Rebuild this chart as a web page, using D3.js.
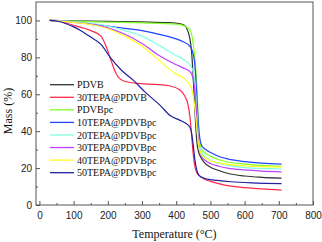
<!DOCTYPE html>
<html><head><meta charset="utf-8">
<script src="https://cdn.jsdelivr.net/npm/d3@7"></script>
<style>html,body{margin:0;padding:0;background:#fff}svg{display:block}</style>
</head><body><svg id="c" width="322" height="242"></svg>
<script>
// Series data: [temperature °C, mass %]
const pdvb = [[30,100],[100,99.8],[200,99.5],[300,99.2],[380,98.8],[420,97.8],[430,96],[440,90],[445,83],[450,68],[455,50],[460,35],[465,29],[470,26.5],[480,23.5],[500,20.5],[525,18.7],[550,17.2],[600,15.7],[650,15],[708,14.6]];
const tepa30pdvb = [[30,100],[60,99.5],[100,97.3],[150,94.5],[180,91.5],[195,86],[210,78],[225,71],[245,67.3],[280,66],[350,65.2],[380,64.6],[410,62.5],[425,59],[435,54],[440,48],[445,38],[450,27],[455,20.5],[462,17],[470,15.5],[485,13.8],[500,12.8],[530,11.3],[560,10.2],[600,9.4],[650,8.7],[708,8.1]];
const pdvbpc = [[30,100],[100,99.6],[200,99.1],[300,98.7],[400,98],[420,97.3],[430,96.5],[440,95],[445,92.5],[450,87],[455,79],[460,66],[465,45],[470,33],[475,30],[480,29],[490,27.5],[500,26.5],[525,24.5],[550,23.3],[600,22.2],[650,21.5],[708,21]];
const tepa10 = [[30,100],[100,99.3],[150,98.2],[200,97],[250,95.7],[300,94.5],[350,92.5],[400,90],[420,88.5],[440,86],[445,84.5],[450,81.5],[455,75],[460,60],[465,43],[470,35],[475,32],[480,31],[490,29.5],[500,28.5],[525,26.3],[550,25],[600,23.5],[650,22.7],[708,22.2]];
const tepa20 = [[30,100],[100,99.3],[150,98.5],[200,97],[250,94.5],[300,91.5],[350,86.5],[400,81],[420,79],[440,76],[445,74.5],[450,72],[455,65],[460,52],[465,36],[470,30.5],[475,28.5],[480,27],[490,25.5],[500,24.3],[525,22.5],[550,21.5],[600,20.3],[650,19.8],[708,19.5]];
const tepa30 = [[30,100],[100,99],[150,98],[200,96],[250,92.5],[300,87.5],[350,81],[400,76],[420,74.3],[440,72.3],[445,71],[450,68],[455,61],[460,48],[465,34],[470,28.5],[475,26.3],[480,25],[490,23.5],[500,22.5],[525,21],[550,20],[600,19],[650,18.4],[708,18]];
const tepa40 = [[30,100],[100,99],[150,97.8],[200,95.5],[250,91.5],[300,86],[350,78.5],[380,73.5],[400,71],[420,69],[440,65],[445,63],[450,59],[455,52],[460,42],[465,33],[470,29],[475,27],[480,26],[490,25],[500,24],[525,22.8],[550,22],[600,21.2],[650,20.8],[708,20.5]];
const tepa50 = [[30,100],[60,99.3],[100,96.5],[120,94.6],[150,91],[180,87],[207,80],[240,73],[275,67.5],[310,61],[353,54],[382,48.5],[410,46],[430,44],[440,42.3],[445,39],[450,32],[455,24],[460,19],[465,16.5],[475,15],[490,14],[520,13.3],[560,12.6],[620,12],[708,11.6]];

const seriesNames = ["PDVB","30TEPA@PDVB","PDVBpc","10TEPA@PDVBpc","20TEPA@PDVBpc","30TEPA@PDVBpc","40TEPA@PDVBpc","50TEPA@PDVBpc"];
const seriesData = [pdvb, tepa30pdvb, pdvbpc, tepa10, tepa20, tepa30, tepa40, tepa50];
const seriesColors = ["#333333","#ff2a4a","#80ff20","#2244ff","#80ffe0","#c040ff","#ffff20","#2020a0"];
const xTicks = [0,100,200,300,400,500,600,700,800];
const yTicks = [0,20,40,60,80,100];

const svg = d3.select("#c");
const L = 36, R = 313, T = 2, B = 205;
const x = d3.scaleLinear().domain([-10, 800]).range([L, R]);
const y = d3.scaleLinear().domain([0, 110]).range([B, T]);
const axisColor = "#555";

// frame
svg.append("rect").attr("x", L).attr("y", T).attr("width", R - L).attr("height", B - T)
  .attr("fill", "none").attr("stroke", axisColor).attr("stroke-width", 1);

// x axis ticks (inward)
const gx = svg.append("g").attr("transform", `translate(0,${B})`);
gx.call(d3.axisBottom(x).tickValues(xTicks).tickSize(-4).tickPadding(7).tickFormat(d3.format("d")));
gx.append("g").call(d3.axisBottom(x).tickValues(d3.range(50, 800, 100)).tickSize(-2).tickFormat(""));
const gy = svg.append("g").attr("transform", `translate(${L},0)`);
gy.call(d3.axisLeft(y).tickValues(yTicks).tickSize(-4).tickPadding(4).tickFormat(d3.format("d")));
gy.append("g").call(d3.axisLeft(y).tickValues(d3.range(10, 110, 20)).tickSize(-2).tickFormat(""));
svg.selectAll(".domain").remove();
svg.selectAll(".tick line").attr("stroke", axisColor);
svg.selectAll(".tick text").attr("font-family", "Liberation Sans, Arial, sans-serif").attr("font-size", 10).attr("fill", "#222");

// lines
const line = d3.line().x(d => x(d[0])).y(d => y(d[1])).curve(d3.curveMonotoneX);
seriesData.forEach((s, i) => {
  svg.append("path").attr("d", line(s)).attr("fill", "none")
    .attr("stroke", seriesColors[i]).attr("stroke-width", 1.2);
});

// legend
const lg = svg.append("g");
seriesNames.forEach((n, i) => {
  const yy = 84.7 + i * 12.57;
  lg.append("line").attr("x1", 50).attr("x2", 74).attr("y1", yy).attr("y2", yy)
    .attr("stroke", seriesColors[i]).attr("stroke-width", 1.3);
  lg.append("text").attr("x", 77).attr("y", yy + 3.6).text(n)
    .attr("font-family", "Liberation Serif, Times New Roman, serif").attr("font-size", 10).attr("fill", "#111");
});

// axis titles
svg.append("text").attr("x", 174.5).attr("y", 238).attr("text-anchor", "middle")
  .attr("font-family", "Liberation Serif, Times New Roman, serif").attr("font-size", 12).attr("fill", "#111")
  .text("Temperature (°C)");
svg.append("text").attr("transform", "translate(12,111) rotate(-90)").attr("text-anchor", "middle")
  .attr("font-family", "Liberation Serif, Times New Roman, serif").attr("font-size", 12).attr("fill", "#111")
  .text("Mass (%)");
</script></body></html>
